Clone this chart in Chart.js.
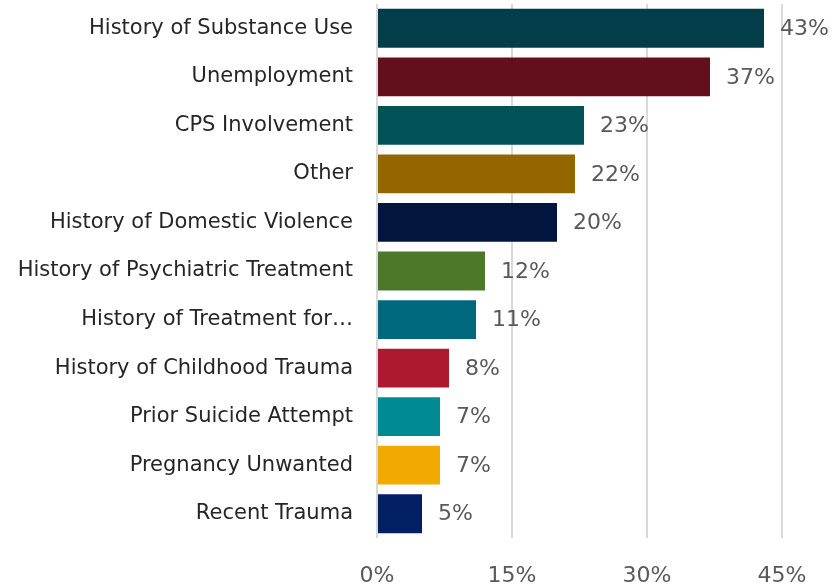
<!DOCTYPE html>
<html>
<head>
<meta charset="utf-8">
<script src="https://cdn.jsdelivr.net/npm/chart.js@4"></script>
<style>
  html, body { margin: 0; padding: 0; background: #fff; }
  #wrap { width: 834px; height: 585px; position: relative; }
</style>
</head>
<body>
<div id="wrap"><canvas id="riskChart"></canvas></div>
<script>
const factors = [
  'History of Substance Use',
  'Unemployment',
  'CPS Involvement',
  'Other',
  'History of Domestic Violence',
  'History of Psychiatric Treatment',
  'History of Treatment for…',
  'History of Childhood Trauma',
  'Prior Suicide Attempt',
  'Pregnancy Unwanted',
  'Recent Trauma',
]
const percents = [43, 37, 23, 22, 20, 12, 11, 8, 7, 7, 5]
const barColors = [
  '#033d4a', '#64101c', '#025358', '#936600', '#02153e', '#4d782a',
  '#00677c', '#ab1a2f', '#008b92', '#f2a900', '#021f63',
]
const axisTicks = [0, 15, 30, 45]

const FONT = 'DejaVu Sans'

// writes the percentage just past the end of each bar
const valueLabels = {
  id: 'valueLabels',
  afterDatasetsDraw(chart) {
    const ctx = chart.ctx
    const meta = chart.getDatasetMeta(0)
    ctx.save()
    ctx.font = '22px "' + FONT + '"'
    ctx.fillStyle = '#595959'
    ctx.textAlign = 'left'
    ctx.textBaseline = 'middle'
    meta.data.forEach((bar, i) => {
      ctx.fillText(percents[i] + '%', bar.x + 16, bar.y + 1)
    })
    ctx.restore()
  },
}

new Chart(document.getElementById('riskChart'), {
  type: 'bar',
  data: {
    labels: factors,
    datasets: [
      {
        data: percents,
        backgroundColor: barColors,
        borderWidth: 0,
        barPercentage: 0.8,
        categoryPercentage: 1,
      },
    ],
  },
  options: {
    indexAxis: 'y',
    responsive: true,
    maintainAspectRatio: false,
    animation: false,
    layout: { padding: { top: 4, right: 52, left: 0, bottom: 0 } },
    plugins: {
      legend: { display: false },
      tooltip: { enabled: false },
    },
    scales: {
      x: {
        min: 0,
        max: 45,
        afterBuildTicks: (scale) => {
          scale.ticks = axisTicks.map((v) => ({ value: v }))
        },
        grid: { color: '#d9d9d9', lineWidth: 2, drawTicks: false },
        border: { display: false },
        ticks: {
          padding: 25,
          color: '#595959',
          font: { family: FONT, size: 22 },
          callback: (v) => v + '%',
        },
        afterFit: (scale) => {
          scale.height = 47
        },
      },
      y: {
        grid: { display: false, drawTicks: false },
        border: { display: false },
        ticks: {
          padding: 24,
          color: '#262626',
          font: { family: FONT, size: 21 },
        },
        afterFit: (scale) => {
          // keep the label gap without pushing the plot down
          scale.width = 377
          scale.paddingTop = 0
          scale.paddingBottom = 0
        },
      },
    },
  },
  plugins: [valueLabels],
})
</script>
</body>
</html>
